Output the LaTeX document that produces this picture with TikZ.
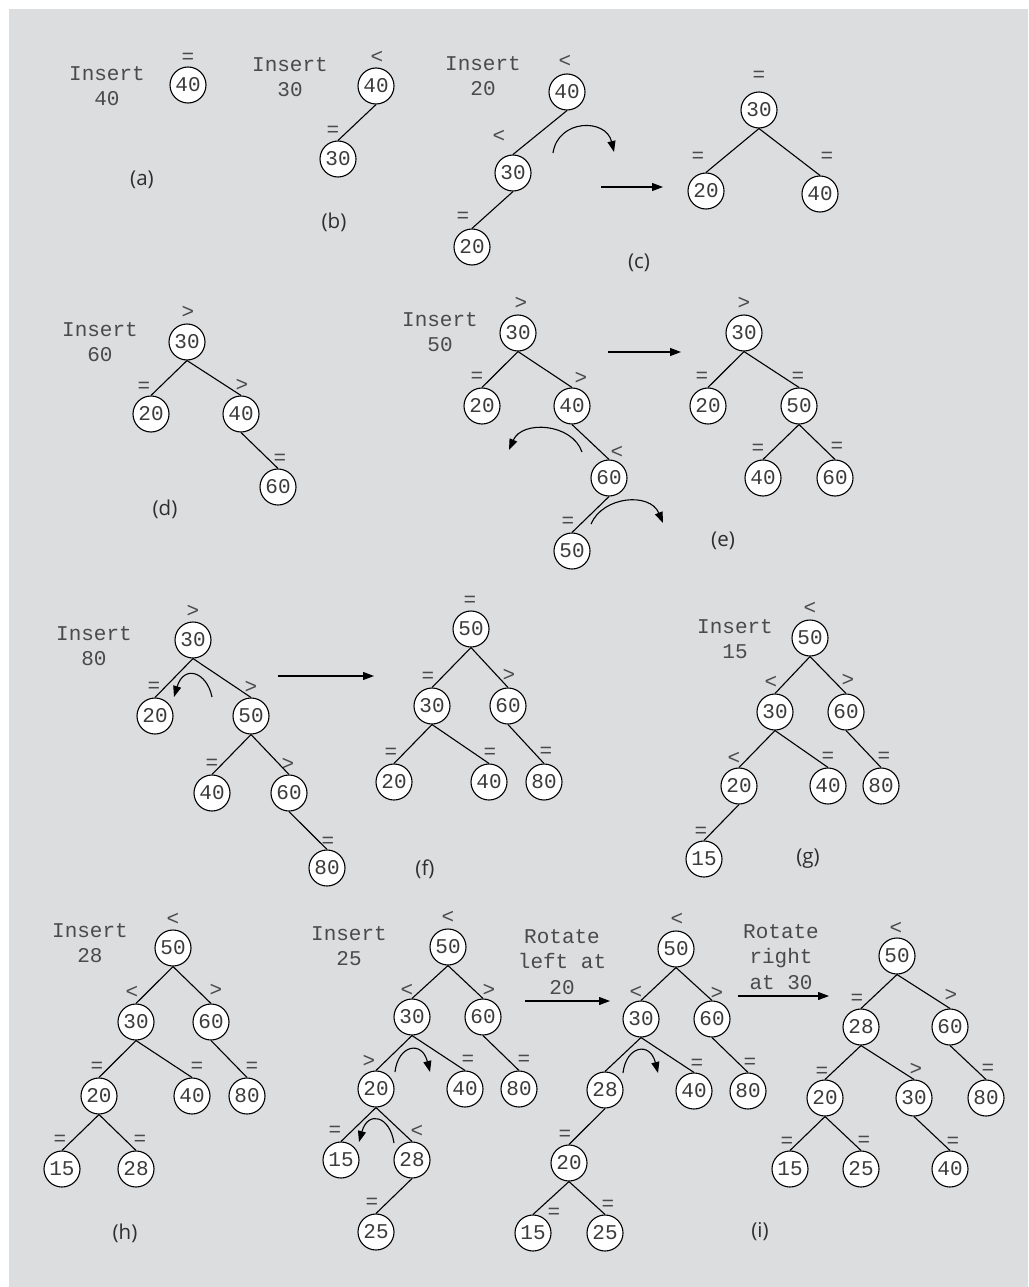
\documentclass[tikz,border=0pt]{standalone}
\usepackage{fontspec}
\usetikzlibrary{arrows.meta}
\newfontfamily\monof{Liberation Mono}
\newfontfamily\sansf{Open Sans}
\definecolor{panel}{HTML}{DCDDDF}
\definecolor{txtc}{HTML}{4A4A4A}
\definecolor{numc}{HTML}{3C3C3C}
\definecolor{capc}{HTML}{2E2E2E}
\tikzset{
  bnode/.style={circle, draw=black, fill=white, line width=1.1pt, minimum size=36pt, inner sep=0pt,
    font=\monof\fontsize{21}{25}\selectfont, text=numc},
  sym/.style={inner sep=0pt, font=\monof\fontsize{21}{25}\selectfont, text=txtc},
  instr/.style={align=center, inner sep=0pt, font=\monof\fontsize{21}{25.5}\selectfont, text=txtc},
  capt/.style={inner sep=0pt, font=\sansf\fontsize{20.5}{24}\selectfont, text=capc},
  tline/.style={line width=1.1pt, draw=black},
  myarrow/.style={line width=1.1pt, draw=black, -{Triangle[length=11pt,width=8pt]}},
}
\newcommand\avl[5]{\node[bnode] (#1) at (#2) {#3}; \node[sym] (#1s) at (#5) {#4};}
\newcommand\E[2]{\draw[tline] (#1.south) -- (#2.north);}
\begin{document}
\begin{tikzpicture}[x=1pt,y=-1pt]
\useasboundingbox (0,0) rectangle (1028,1287);
\fill[white] (0,0) rectangle (1028,1287);
\fill[panel] (9,9) rectangle (1028,1287);

% (a)
\node[instr] (ia) at (107,86) {Insert\\40};
\avl{a40}{188,85}{40}{=}{188,58}
\node[capt] (capa) at (142,180) {(a)};

% (b)
\node[instr] (ib) at (290,77) {Insert\\30};
\avl{b40}{376,86}{40}{<}{377,57}
\avl{b30}{338,159}{30}{=}{333,131}
\E{b40}{b30}
\node[capt] (capb) at (334,222) {(b)};

% (c)
\node[instr] (ic) at (483,76) {Insert\\20};
\avl{c40}{567,92}{40}{<}{565,61}
\avl{c30}{513,173}{30}{<}{499,136}
\avl{c20}{472,247}{20}{=}{463,217}
\E{c40}{c30} \E{c30}{c20}
\coordinate (cca) at (553,153); \coordinate (ccb) at (614,152);
\draw[myarrow] (cca) .. controls (558,119) and (606,118) .. (ccb);
\coordinate (csa) at (601,187); \coordinate (csb) at (663,187);
\draw[myarrow] (csa) -- (csb);
\avl{cr30}{759,110}{30}{=}{759,76}
\avl{cr20}{706,191}{20}{=}{698,157}
\avl{cr40}{820,194}{40}{=}{827,157}
\E{cr30}{cr20} \E{cr30}{cr40}
\node[capt] (capc) at (639,263) {(c)};

% (d)
\node[instr] (id) at (100,342) {Insert\\60};
\avl{d30}{187,342}{30}{>}{188,312}
\avl{d20}{151,414}{20}{=}{144,387}
\avl{d40}{241,414}{40}{>}{242,385}
\avl{d60}{278,487}{60}{=}{280,459}
\E{d30}{d20} \E{d30}{d40} \E{d40}{d60}
\node[capt] (capd) at (165,509) {(d)};

% (e)
\node[instr] (ie) at (440,332) {Insert\\50};
\avl{e30}{518,333}{30}{>}{521,303}
\avl{e20}{482,406}{20}{=}{477,377}
\avl{e40}{572,406}{40}{>}{581,378}
\avl{e60}{609,478}{60}{<}{617,452}
\avl{e50}{572,551}{50}{=}{568,522}
\E{e30}{e20} \E{e30}{e40} \E{e40}{e60} \E{e60}{e50}
\coordinate (eca) at (582,452); \coordinate (ecb) at (509,450);
\draw[myarrow] (eca) .. controls (572,423) and (522,420) .. (ecb);
\coordinate (ecc) at (591,524); \coordinate (ecd) at (663,523);
\draw[myarrow] (ecc) .. controls (603,496) and (650,492) .. (ecd);
\coordinate (esa) at (608,352); \coordinate (esb) at (681,352);
\draw[myarrow] (esa) -- (esb);
\avl{er30}{744,333}{30}{>}{744,303}
\avl{er20}{708,406}{20}{=}{702,377}
\avl{er50}{799,406}{50}{=}{798,377}
\avl{er40}{763,478}{40}{=}{758,449}
\avl{er60}{835,478}{60}{=}{837,447}
\E{er30}{er20} \E{er30}{er50} \E{er50}{er40} \E{er50}{er60}
\node[capt] (cape) at (723,541) {(e)};

% (f)
\node[instr] (if) at (94,646) {Insert\\80};
\avl{f30}{193,640}{30}{>}{193,611}
\avl{f20}{155,716}{20}{=}{154,687}
\avl{f50}{251,716}{50}{>}{251,687}
\avl{f40}{212,793}{40}{=}{212,764}
\avl{f60}{289,793}{60}{>}{288,764}
\avl{f80}{327,868}{80}{=}{328,842}
\E{f30}{f20} \E{f30}{f50} \E{f50}{f40} \E{f50}{f60} \E{f60}{f80}
\coordinate (fca) at (212,697); \coordinate (fcb) at (174,697);
\draw[myarrow] (fca) .. controls (207,672) and (184,664) .. (fcb);
\coordinate (fsa) at (278,676); \coordinate (fsb) at (374,676);
\draw[myarrow] (fsa) -- (fsb);
\avl{fr50}{471,629}{50}{=}{470,601}
\avl{fr30}{432,706}{30}{=}{428,677}
\avl{fr60}{508,706}{60}{>}{509,675}
\avl{fr20}{394,782}{20}{=}{391,753}
\avl{fr40}{489,782}{40}{=}{490,753}
\avl{fr80}{544,782}{80}{=}{546,752}
\E{fr50}{fr30} \E{fr50}{fr60} \E{fr30}{fr20} \E{fr30}{fr40} \E{fr60}{fr80}
\node[capt] (capf) at (425,869) {(f)};

% (g)
\node[instr] (ig) at (735,639) {Insert\\15};
\avl{g50}{810,638}{50}{<}{810,608}
\avl{g30}{775,712}{30}{<}{771,682}
\avl{g60}{846,712}{60}{>}{848,680}
\avl{g20}{739,786}{20}{<}{734,758}
\avl{g40}{828,786}{40}{=}{828,757}
\avl{g80}{881,786}{80}{=}{884,757}
\avl{g15}{704,859}{15}{=}{701,832}
\E{g50}{g30} \E{g50}{g60} \E{g30}{g20} \E{g30}{g40} \E{g60}{g80} \E{g20}{g15}
\node[capt] (capg) at (808,859) {(g)};

% (h)
\node[instr] (ih) at (90,943) {Insert\\28};
\avl{h50}{173,948}{50}{<}{173,919}
\avl{h30}{136,1022}{30}{<}{132,992}
\avl{h60}{211,1022}{60}{>}{216,990}
\avl{h20}{99,1096}{20}{=}{97,1067}
\avl{h40}{192,1096}{40}{=}{197,1067}
\avl{h80}{247,1096}{80}{=}{252,1067}
\avl{h15}{62,1169}{15}{=}{60,1140}
\avl{h28}{136,1169}{28}{=}{140,1140}
\E{h50}{h30} \E{h50}{h60} \E{h30}{h20} \E{h30}{h40} \E{h60}{h80} \E{h20}{h15} \E{h20}{h28}
\node[capt] (caph) at (125,1233) {(h)};

% (i) first
\node[instr] (ii) at (349,946) {Insert\\25};
\avl{i50}{448,947}{50}{<}{448,917}
\avl{i30}{412,1017}{30}{<}{407,990}
\avl{i60}{483,1017}{60}{>}{489,990}
\avl{i20}{376,1089}{20}{>}{369,1061}
\avl{i40}{465,1089}{40}{=}{468,1060}
\avl{i80}{519,1089}{80}{=}{524,1060}
\avl{i15}{341,1160}{15}{=}{335,1131}
\avl{i28}{412,1160}{28}{<}{417,1131}
\avl{i25}{376,1232}{25}{=}{372,1203}
\E{i50}{i30} \E{i50}{i60} \E{i30}{i20} \E{i30}{i40} \E{i60}{i80} \E{i20}{i15} \E{i20}{i28} \E{i28}{i25}
\coordinate (ica) at (395,1072); \coordinate (icb) at (430,1072);
\draw[myarrow] (ica) .. controls (398,1045) and (422,1040) .. (icb);
\coordinate (icc) at (394,1143); \coordinate (icd) at (359,1142);
\draw[myarrow] (icc) .. controls (390,1116) and (368,1110) .. (icd);
\node[instr] (rl) at (562,962) {Rotate\\left at\\20};
\coordinate (isa) at (525,1001); \coordinate (isb) at (610,1001);
\draw[myarrow] (isa) -- (isb);

% (i) middle
\avl{j50}{676,949}{50}{<}{677,919}
\avl{j30}{641,1019}{30}{<}{636,992}
\avl{j60}{712,1019}{60}{>}{717,993}
\node[bnode] (j28) at (605,1090) {28};
\avl{j40}{694,1091}{40}{=}{697,1064}
\avl{j80}{748,1091}{80}{=}{750,1063}
\avl{j20}{569,1163}{20}{=}{565,1135}
\avl{j15}{533,1233}{15}{=}{554,1213}
\avl{j25}{605,1233}{25}{=}{608,1205}
\E{j50}{j30} \E{j50}{j60} \E{j30}{j28} \E{j30}{j40} \E{j60}{j80} \E{j28}{j20} \E{j20}{j15} \E{j20}{j25}
\coordinate (jca) at (623,1073); \coordinate (jcb) at (658,1073);
\draw[myarrow] (jca) .. controls (626,1046) and (650,1041) .. (jcb);
\node[instr] (rr) at (781,957) {Rotate\\right\\at 30};
\coordinate (jsa) at (738,996); \coordinate (jsb) at (829,996);
\draw[myarrow] (jsa) -- (jsb);

% (i) right
\avl{k50}{897,956}{50}{<}{896,928}
\avl{k28}{861,1027}{28}{=}{857,999}
\avl{k60}{950,1027}{60}{>}{951,995}
\avl{k20}{825,1098}{20}{=}{822,1072}
\avl{k30}{914,1098}{30}{>}{916,1069}
\avl{k80}{986,1098}{80}{=}{988,1069}
\avl{k15}{790,1169}{15}{=}{787,1142}
\avl{k25}{861,1169}{25}{=}{864,1141}
\avl{k40}{950,1169}{40}{=}{953,1142}
\E{k50}{k28} \E{k50}{k60} \E{k28}{k20} \E{k28}{k30} \E{k60}{k80} \E{k20}{k15} \E{k20}{k25} \E{k30}{k40}
\node[capt] (capi) at (760,1232) {(i)};
\end{tikzpicture}
\end{document}
